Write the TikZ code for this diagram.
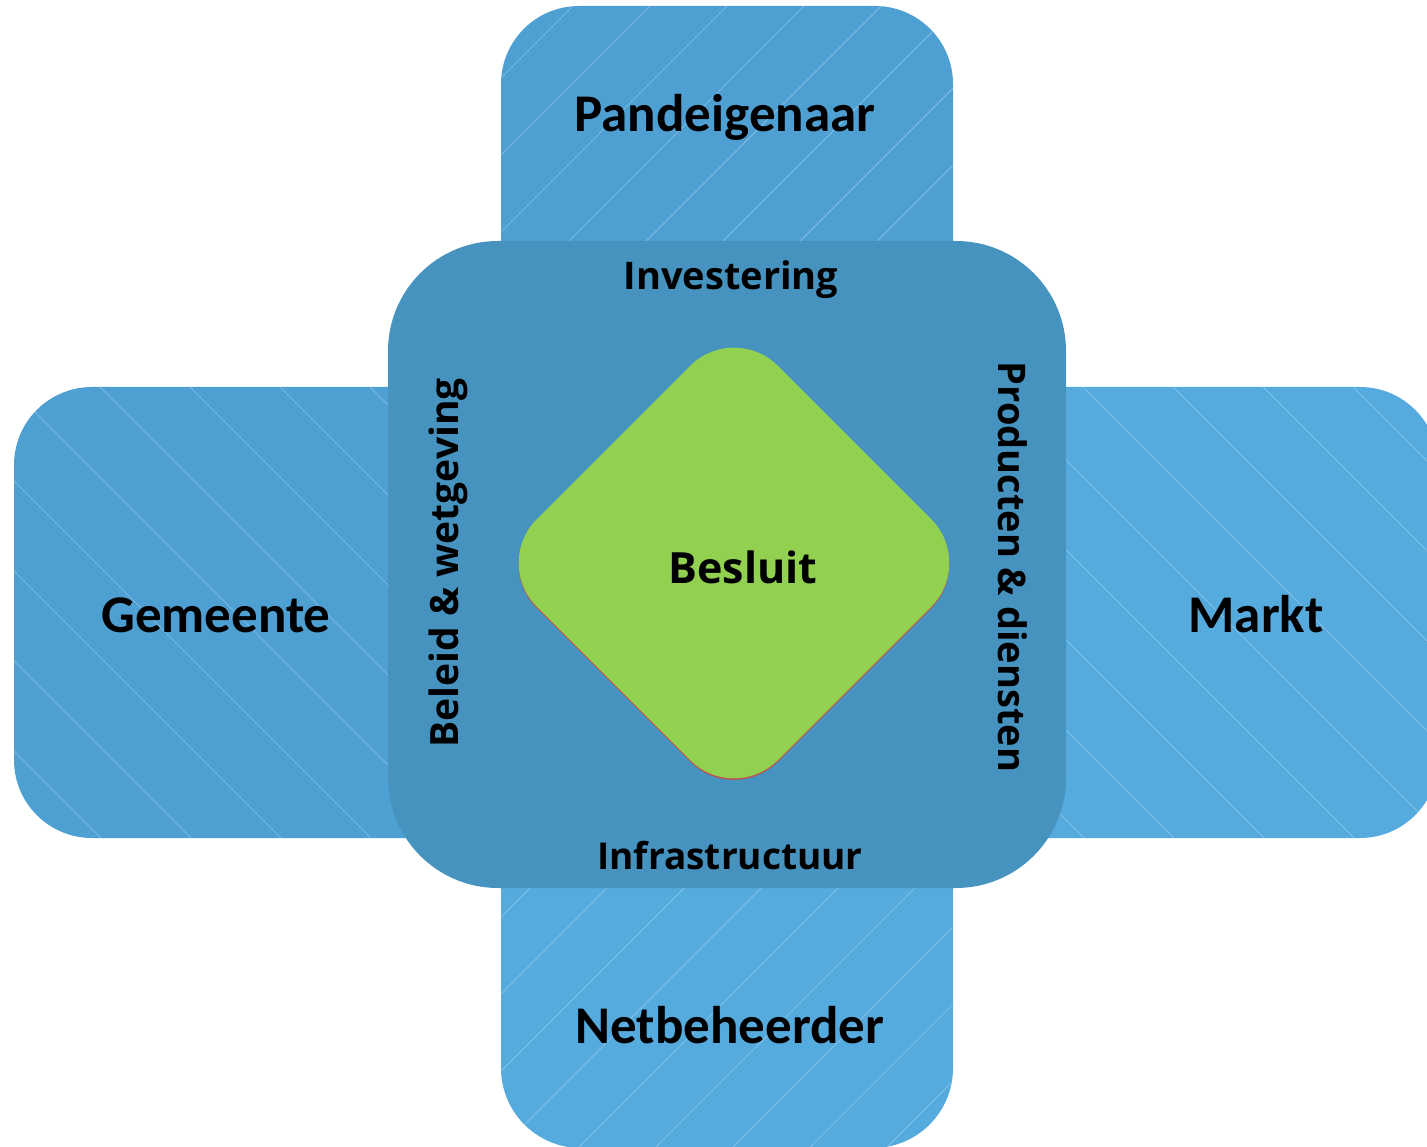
\documentclass[tikz,border=0pt]{standalone}
\usepackage{fontspec}
\newfontfamily\outerfont{Carlito}
\newfontfamily\innerfont{Open Sans}
\definecolor{boxA}{HTML}{4FA0D2}
\definecolor{boxB}{HTML}{55ABDE}
\definecolor{core}{HTML}{4693C0}
\definecolor{leaf}{HTML}{92D050}
\definecolor{rim}{HTML}{C0504D}
\definecolor{hatch}{HTML}{8CC4E8}
\tikzset{
  hatchline/.style={draw=hatch, line width=0.7pt},
  outerlabel/.style={anchor=base, inner sep=0pt, font=\outerfont\bfseries\fontsize{53}{60}\selectfont},
  innerlabel/.style={anchor=base, inner sep=0pt, font=\innerfont\bfseries\fontsize{38}{46}\selectfont},
}
\begin{document}
\begin{tikzpicture}[x=1pt,y=-1pt]
\useasboundingbox (0,0) rectangle (1427,1147);
% top box
\fill[boxA, rounded corners=78] (501,6) rectangle (953,500);
\begin{scope}
  \clip[rounded corners=78] (501,6) rectangle (953,500);
  \foreach \k in {-8,...,8} {
    \draw[hatchline] ({579+77*\k},0) -- ({579+77*\k-700},700);
  }
\end{scope}
% left box
\fill[boxA, rounded corners=78] (14,387) rectangle (600,838);
\begin{scope}
  \clip[rounded corners=78] (14,387) rectangle (600,838);
  \foreach \k in {-6,...,10} {
    \draw[hatchline] ({-287+90*\k+380},380) -- ({-287+90*\k+850},850);
  }
\end{scope}
% right box
\fill[boxB, rounded corners=78] (860,387) rectangle (1438,838);
\begin{scope}
  \clip[rounded corners=78] (860,387) rectangle (1438,838);
  \foreach \k in {-10,...,8} {
    \draw[hatchline] ({696+90*\k+380},380) -- ({696+90*\k+850},850);
  }
\end{scope}
% bottom box
\fill[boxB, rounded corners=80] (501,700) rectangle (953,1148);
\begin{scope}
  \clip[rounded corners=80] (501,700) rectangle (953,1148);
  \foreach \k in {-8,...,10} {
    \draw[hatchline] ({1418+77*\k},0) -- ({1418+77*\k-1200},1200);
  }
\end{scope}
% central square
\fill[core, rounded corners=110] (388,241) rectangle (1066,888);
% diamond
\fill[rim, rounded corners=62] (734,323.5) -- (975,564.5) -- (734,805.5) -- (493,564.5) -- cycle;
\fill[leaf, rounded corners=62] (734,322) -- (975,563) -- (734,804) -- (493,563) -- cycle;
% labels
\node[outerlabel] (pand) at (725,132) {Pandeigenaar};
\node[outerlabel] (gem) at (216,632) {Gemeente};
\node[outerlabel] (markt) at (1256,632) {Markt};
\node[outerlabel] (net) at (730,1043) {Netbeheerder};
\node[innerlabel] (inv) at (731,290) {Investering};
\node[innerlabel, font=\innerfont\bfseries\fontsize{37}{46}\selectfont] (infra) at (730,869) {Infrastructuur};
\node[innerlabel, font=\innerfont\bfseries\fontsize{39}{46}\selectfont, rotate=90] (beleid) at (458,563) {Beleid \& wetgeving};
\node[innerlabel, rotate=-90] (prod) at (998,567) {Producten \& diensten};
\node[innerlabel, font=\innerfont\bfseries\fontsize{43}{50}\selectfont] (bes) at (743,583) {Besluit};
\end{tikzpicture}
\end{document}
